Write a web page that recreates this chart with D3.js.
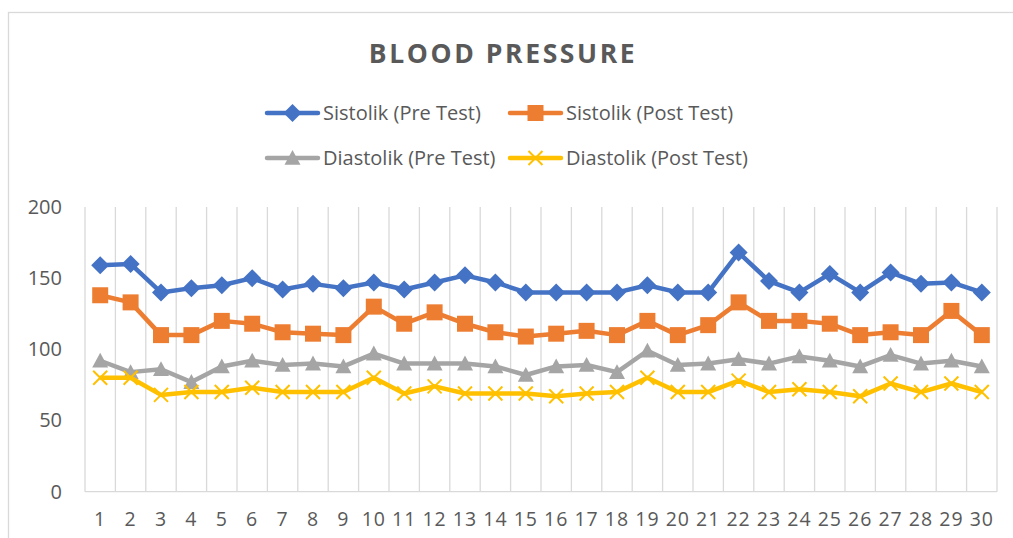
<!DOCTYPE html>
<html>
<head>
<meta charset="utf-8">
<script src="https://cdn.jsdelivr.net/npm/d3@7"></script>
<style>
  body { margin: 0; background: #fff; }
  svg text { font-family: "Open Sans", sans-serif; fill: #595959; }
</style>
</head>
<body>
<svg id="chart" width="1013" height="538"></svg>
<script>
// Data
const days = d3.range(1, 31);
const sistolikPre  = [159,160,140,143,145,150,142,146,143,147,142,147,152,147,140,140,140,140,145,140,140,168,148,140,153,140,154,146,147,140];
const sistolikPost = [138,133,110,110,120,118,112,111,110,130,118,126,118,112,109,111,113,110,120,110,117,133,120,120,118,110,112,110,127,110];
const diastolikPre = [92,84,86,77,88,92,89,90,88,97,90,90,90,88,82,88,89,84,99,89,90,93,90,95,92,88,96,90,92,88];
const diastolikPost = [80,80,68,70,70,73,70,70,70,80,69,74,69,69,69,67,69,70,80,70,70,78,70,72,70,67,76,70,76,70];
const yTicks = [0, 50, 100, 150, 200];

const seriesNames = ["Sistolik (Pre Test)", "Sistolik (Post Test)", "Diastolik (Pre Test)", "Diastolik (Post Test)"];
const seriesColors = ["#4472C4", "#ED7D31", "#A5A5A5", "#FFC000"];

// custom marker shapes, s = half width
const markers = {
  diamond: s => `M0,${-s}L${s},0L0,${s}L${-s},0Z`,
  square: s => `M${-s},${-s}H${s}V${s}H${-s}Z`,
  triangle: s => `M0,${-s}L${s},${s * 0.85}H${-s}Z`,
  cross: s => `M${-s},${-s}L${s},${s}M${s},${-s}L${-s},${s}`
};

const series = [
  {name: seriesNames[0], values: sistolikPre, color: seriesColors[0], marker: "diamond", r: 9},
  {name: seriesNames[1], values: sistolikPost, color: seriesColors[1], marker: "square", r: 8},
  {name: seriesNames[2], values: diastolikPre, color: seriesColors[2], marker: "triangle", r: 8},
  {name: seriesNames[3], values: diastolikPost, color: seriesColors[3], marker: "cross", r: 7}
];

const svg = d3.select("#chart");

// chart outer border
svg.append("rect")
  .attr("x", 8.5).attr("y", 12.5)
  .attr("width", 1100).attr("height", 600)
  .attr("fill", "none")
  .attr("stroke", "#d9d9d9")
  .attr("stroke-width", 1.3);

const plotLeft = 85, plotRight = 997, plotTop = 207, plotBottom = 491.7;

const x = d3.scaleBand()
  .domain(days)
  .range([plotLeft, plotRight]);

const y = d3.scaleLinear()
  .domain([0, 200])
  .range([plotBottom, plotTop]);

// vertical gridlines at band edges
const edges = days.map(d => x(d)).concat([plotRight]);
svg.append("g")
  .selectAll("line")
  .data(edges)
  .join("line")
  .attr("x1", d => d).attr("x2", d => d)
  .attr("y1", plotTop).attr("y2", plotBottom)
  .attr("stroke", "#d9d9d9")
  .attr("stroke-width", 1.3);

// bottom axis line
svg.append("line")
  .attr("x1", plotLeft).attr("x2", plotRight)
  .attr("y1", plotBottom).attr("y2", plotBottom)
  .attr("stroke", "#d9d9d9")
  .attr("stroke-width", 1.3);

// y axis labels
const yAxis = svg.append("g")
  .attr("transform", `translate(${plotLeft},0)`)
  .call(d3.axisLeft(y).tickValues(yTicks).tickSize(0).tickPadding(23));
yAxis.select(".domain").remove();
yAxis.selectAll("text")
  .attr("font-size", 20)
  .attr("font-family", "Open Sans, sans-serif")
  .attr("fill", "#595959");

// x axis labels
const xAxis = svg.append("g")
  .attr("transform", `translate(0,${plotBottom})`)
  .call(d3.axisBottom(x).tickSize(0).tickPadding(20));
xAxis.select(".domain").remove();
xAxis.selectAll("text")
  .attr("font-size", 19.5)
  .attr("letter-spacing", 1)
  .attr("font-family", "Open Sans, sans-serif")
  .attr("fill", "#595959");

// lines and markers
const line = d3.line()
  .x((d, i) => x(days[i]) + x.bandwidth() / 2)
  .y(d => y(d));

series.forEach(s => {
  svg.append("path")
    .datum(s.values)
    .attr("d", line)
    .attr("fill", "none")
    .attr("stroke", s.color)
    .attr("stroke-width", 4.5)
    .attr("stroke-linejoin", "round");

  svg.append("g")
    .selectAll("path")
    .data(s.values)
    .join("path")
    .attr("transform", (d, i) => `translate(${x(days[i]) + x.bandwidth() / 2},${y(d)})`)
    .attr("d", markers[s.marker](s.r))
    .attr("fill", s.marker === "cross" ? "none" : s.color)
    .attr("stroke", s.color)
    .attr("stroke-width", s.marker === "cross" ? 2 : 0);
});

// title
svg.append("text")
  .attr("x", 503)
  .attr("y", 63)
  .attr("text-anchor", "middle")
  .attr("font-size", 26.5)
  .attr("font-weight", "bold")
  .attr("letter-spacing", 2.6)
  .text("BLOOD PRESSURE");

// legend
const legendPos = [
  {x: 267, y: 113}, {x: 510, y: 113},
  {x: 267, y: 158}, {x: 510, y: 158}
];
series.forEach((s, i) => {
  const g = svg.append("g")
    .attr("transform", `translate(${legendPos[i].x},${legendPos[i].y})`);
  g.append("line")
    .attr("x1", 0).attr("x2", 51)
    .attr("stroke", s.color)
    .attr("stroke-width", 4.5)
    .attr("stroke-linecap", "round");
  g.append("path")
    .attr("transform", "translate(25.5,0)")
    .attr("d", markers[s.marker](s.r))
    .attr("fill", s.marker === "cross" ? "none" : s.color)
    .attr("stroke", s.color)
    .attr("stroke-width", s.marker === "cross" ? 2 : 0);
  g.append("text")
    .attr("x", 56)
    .attr("y", 0)
    .attr("dy", "0.35em")
    .attr("font-size", 20)
    .text(s.name);
});
</script>
</body>
</html>
